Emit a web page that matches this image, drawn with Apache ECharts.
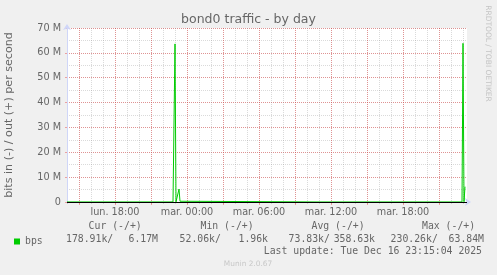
<!DOCTYPE html>
<html>
<head>
<meta charset="utf-8">
<script src="https://cdn.jsdelivr.net/npm/echarts@6/dist/echarts.min.js"></script>
<style>
html,body{margin:0;padding:0;background:#F0F0F0;}
#c{width:497px;height:275px;}
</style>
</head>
<body>
<div id="c"></div>
<script>
// ---- data (x = 5-minute slot since graph start, Mon 14:00; y = bits per second, out (+)) ----
const outSlots = [0, 60, 106, 107, 108, 109, 111, 112, 113, 114, 143, 145, 250, 395, 396, 397, 398];
const outBps   = [20e3, 25e3, 30e3, 40e3, 63.6e6, 50e3, 80e3, 5.2e6, 300e3, 250e3, 250e3, 20e3, 15e3, 20e3, 63.84e6, 100e3, 6.17e6];

const slotCount = 401;          // 400 px of 5-minute steps
const startMinutes = 14 * 60;   // Mon 14:00
const dayNames = ['lun.', 'mar.'];
const yTicks = [0, 10e6, 20e6, 30e6, 40e6, 50e6, 60e6, 70e6];

const legendHeaders = ['Cur (-/+)', 'Min (-/+)', 'Avg (-/+)', 'Max (-/+)'];
const legendIn  = ['178.91k', '52.06k', '73.83k', '230.26k'];
const legendOut = ['6.17M', '1.96k', '358.63k', '63.84M'];
const lastUpdate = 'Last update: Tue Dec 16 23:15:04 2025';
const titleText = 'bond0 traffic - by day';
const unitText = 'bits in (-) / out (+) per second';

const FONT = '"DejaVu Sans", sans-serif';
const MONO = '"DejaVu Sans Mono", monospace';
const FG = '#666666';
const MINOR = 'rgba(140,140,140,0.32)';
const MAJOR = 'rgba(230,50,50,0.42)';
const AXISC = '#CFD6F8';

function slotMinutes(i) { return startMinutes + i * 5; }
function slotName(i) {
  const m = slotMinutes(i);
  const day = Math.floor(m / 1440);
  const hh = Math.floor((m % 1440) / 60);
  const mm = m % 60;
  return dayNames[day] + ' ' + String(hh).padStart(2, '0') + ':' + String(mm).padStart(2, '0');
}
const categories = [];
for (let i = 0; i < slotCount; i++) categories.push(slotName(i));

const isHour = i => slotMinutes(i) % 60 === 0;
const isMajor = i => slotMinutes(i) % 180 === 0;
const isLabel = i => slotMinutes(i) % 360 === 0;

const chart = echarts.init(document.getElementById('c'), null, {renderer: 'canvas'});

const graphics = [];
const hdrX = [88.6, 200.5, 311.5, 422];
legendHeaders.forEach((t, i) => graphics.push({type:'text', x:hdrX[i], y:226, style:{text:t, font:'9.8px ' + MONO, fill:FG, align:'left', verticalAlign:'middle'}}));
const inX = [66, 179.6, 288.6, 390.6];
const outX = [158, 268, 375, 484];
legendIn.forEach((t, i) => graphics.push({type:'text', x:inX[i], y:239.5, style:{text:t + '/', font:'9.8px ' + MONO, fill:FG, align:'left', verticalAlign:'middle'}}));
legendOut.forEach((t, i) => graphics.push({type:'text', x:outX[i], y:239.5, style:{text:t, font:'9.8px ' + MONO, fill:FG, align:'right', verticalAlign:'middle'}}));
graphics.push({type:'text', x:482, y:251.5, style:{text:lastUpdate, font:'9.8px ' + MONO, fill:FG, align:'right', verticalAlign:'middle'}});
graphics.push({type:'text', x:248, y:264, style:{text:'Munin 2.0.67', font:'7.4px ' + FONT, fill:'#c8c8c8', align:'center', verticalAlign:'middle'}});
graphics.push({type:'text', x:488, y:53.5, rotation:-Math.PI/2, style:{text:'RRDTOOL / TOBI OETIKER', font:'7.5px ' + FONT, fill:'#c4c4c4', align:'center', verticalAlign:'middle'}});

const option = {
  animation: false,
  backgroundColor: '#F0F0F0',
  title: {text: titleText, left: 'center', top: 13, padding: 0,
    textStyle: {fontFamily: FONT, fontSize: 12.5, fontWeight: 'normal', color: FG}},
  legend: {left: 14, top: 236.5, padding: 0, itemWidth: 6, itemHeight: 6, icon: 'rect',
    data: ['bps'], textStyle: {fontFamily: MONO, fontSize: 9.8, color: FG}},
  grid: {left:67, top:28, width:400, height:174, show:true, backgroundColor:'#FFFFFF', borderWidth:0,
    containLabel: false, outerBoundsMode: 'none'},
  xAxis: [
    { // series axis: hourly minor grid
      type: 'category', data: categories, boundaryGap: false, position: 'bottom',
      axisLine: {show: true, lineStyle: {color: AXISC, width: 1}, symbol: ['none', 'arrow'], symbolSize: [6, 6], symbolOffset: [0, 4]},
      axisTick: {show: true, length: 2, interval: (i) => isHour(i), lineStyle: {color: MINOR}},
      axisLabel: {show: false},
      splitLine: {show: true, interval: (i) => isHour(i), lineStyle: {color: MINOR, width: 1, type: [1, 1]}}
    },
    { // 3-hourly major grid, 6-hourly labels
      type: 'category', data: categories, boundaryGap: false, position: 'bottom', offset: 0,
      axisLine: {show: false},
      axisTick: {show: true, length: 3, interval: (i) => isMajor(i), lineStyle: {color: MAJOR}},
      axisLabel: {show: true, margin: 5, interval: (i) => isLabel(i), fontFamily: FONT, fontSize: 9.7, color: FG},
      splitLine: {show: true, interval: (i) => isMajor(i), lineStyle: {color: MAJOR, width: 1, type: [1, 1]}}
    }
  ],
  yAxis: [
    {
      type: 'value', min: 0, max: 70e6, interval: 5e6, position: 'left',
      axisLine: {show: true, lineStyle: {color: AXISC, width: 1}, symbol: ['none', 'arrow'], symbolSize: [6, 6], symbolOffset: [0, 4]},
      axisTick: {show: false},
      axisLabel: {show: false},
      splitLine: {show: true, lineStyle: {color: MINOR, width: 1, type: [1, 1]}},
      name: unitText, nameLocation: 'middle', nameGap: 52, nameRotate: 90,
      nameTextStyle: {fontFamily: FONT, fontSize: 11.1, color: FG}
    },
    {
      type: 'value', min: 0, max: 70e6, interval: 10e6, position: 'left', offset: 0,
      axisLine: {show: false},
      axisTick: {show: true, length: 2, lineStyle: {color: MAJOR}},
      axisLabel: {show: true, margin: 6, fontFamily: FONT, fontSize: 9.7, color: FG,
        formatter: v => (v === yTicks[0] ? '0' : (v / 1e6) + ' M')},
      splitLine: {show: true, lineStyle: {color: MAJOR, width: 1, type: [1, 1]}}
    }
  ],
  series: [{
    name: 'bps', type: 'line', xAxisIndex: 0, yAxisIndex: 0,
    showSymbol: false, symbol: 'none',
    lineStyle: {color: '#00CC00', width: 1},
    itemStyle: {color: '#00CC00'},
    data: outSlots.map((s, i) => [s, outBps[i]]),
    markLine: {silent: true, symbol: 'none', label: {show: false},
      lineStyle: {color: '#000000', width: 1, type: 'solid'},
      data: [{yAxis: 0}]}
  }],
  graphic: graphics
};
chart.setOption(option);
</script>
</body>
</html>
